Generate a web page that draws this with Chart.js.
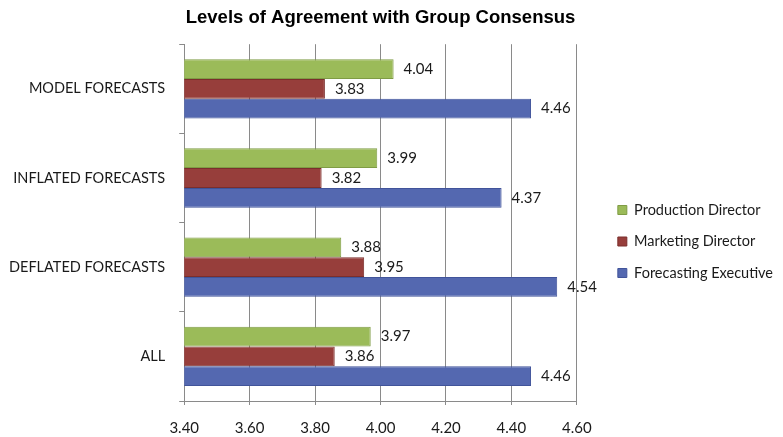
<!DOCTYPE html>
<html>
<head>
<meta charset="utf-8">
<script src="https://cdn.jsdelivr.net/npm/chart.js@4"></script>
<style>
  html, body { margin: 0; padding: 0; background: #fff; }
  #wrap { width: 783px; height: 437px; }
</style>
</head>
<body>
<div id="wrap"><canvas id="agreementChart" width="783" height="437"></canvas></div>
<script>
const categories = ['MODEL FORECASTS', 'INFLATED FORECASTS', 'DEFLATED FORECASTS', 'ALL'];
const productionDirector = [4.04, 3.99, 3.88, 3.97];
const marketingDirector = [3.83, 3.82, 3.95, 3.86];
const forecastingExecutive = [4.46, 4.37, 4.54, 4.46];
const xTicks = [3.40, 3.60, 3.80, 4.00, 4.20, 4.40, 4.60];

const LEGEND_DX = 24;
const LEGEND_DY = 23;

// writes the value just past the end of every bar
const barValueLabels = {
    id: 'barValueLabels',
    afterDatasetsDraw(chart) {
        const ctx = chart.ctx;
        ctx.save();
        ctx.font = '15px Lato';
        ctx.fillStyle = '#1a1a1a';
        ctx.textBaseline = 'middle';
        ctx.textAlign = 'left';
        chart.data.datasets.forEach((ds, i) => {
            chart.getDatasetMeta(i).data.forEach((bar, j) => {
                ctx.fillText(ds.data[j].toFixed(2), bar.x + 10, bar.y);
            });
        });
        ctx.restore();
    }
};

// pushes the legend away from the plot (extra right padding is taken back here)
const legendShift = {
    id: 'legendShift',
    afterLayout(chart) {
        const lg = chart.legend;
        lg.left += LEGEND_DX; lg.right += LEGEND_DX;
        lg.top += LEGEND_DY; lg.bottom += LEGEND_DY;
    }
};

const ctx = document.getElementById('agreementChart').getContext('2d');

new Chart(ctx, {
    type: 'bar',
    data: {
        labels: categories,
        datasets: [{
            label: 'Production Director',
            data: productionDirector,
            backgroundColor: '#9BBB59',
            borderColor: '#7F9C45',
            borderWidth: 1
        }, {
            label: 'Marketing Director',
            data: marketingDirector,
            backgroundColor: '#973E3B',
            borderColor: '#7B2E2C',
            borderWidth: 1
        }, {
            label: 'Forecasting Executive',
            data: forecastingExecutive,
            backgroundColor: '#5468B0',
            borderColor: '#41549A',
            borderWidth: 1
        }]
    },
    options: {
        indexAxis: 'y',
        responsive: false,
        animation: false,
        layout: { padding: { left: 0, right: LEGEND_DX, top: 0, bottom: 0 } },
        datasets: {
            bar: { categoryPercentage: 0.665, barPercentage: 1.0 }
        },
        scales: {
            x: {
                min: 3.4,
                max: 4.6,
                afterBuildTicks: axis => { axis.ticks = xTicks.map(v => ({ value: v })); },
                afterFit: s => { s.height = 36; },
                ticks: {
                    callback: v => Number(v).toFixed(2),
                    color: '#1a1a1a',
                    font: { family: 'Lato', size: 15 },
                    padding: 14
                },
                grid: { color: '#8a8a8a', tickLength: 4 },
                border: { color: '#8a8a8a' }
            },
            y: {
                afterFit: s => { s.paddingTop = 0; s.paddingBottom = 0; s.width -= 5; },
                ticks: {
                    color: '#1a1a1a',
                    font: { family: 'Lato', size: 14.5 },
                    padding: 14
                },
                grid: { offset: true, drawOnChartArea: false, tickLength: 5, color: '#8a8a8a' },
                border: { color: '#8a8a8a' }
            }
        },
        plugins: {
            title: {
                display: true,
                fullSize: false,
                text: 'Levels of Agreement with Group Consensus',
                font: { family: 'Liberation Sans', size: 18.5, weight: 'bold' },
                color: '#000',
                padding: { top: 7, bottom: 15 }
            },
            legend: {
                position: 'right',
                labels: {
                    boxWidth: 9,
                    boxHeight: 9,
                    padding: 17,
                    color: '#1a1a1a',
                    font: { family: 'Lato', size: 14.5 }
                }
            },
            tooltip: { enabled: false }
        }
    },
    plugins: [barValueLabels, legendShift]
});
</script>
</body>
</html>
